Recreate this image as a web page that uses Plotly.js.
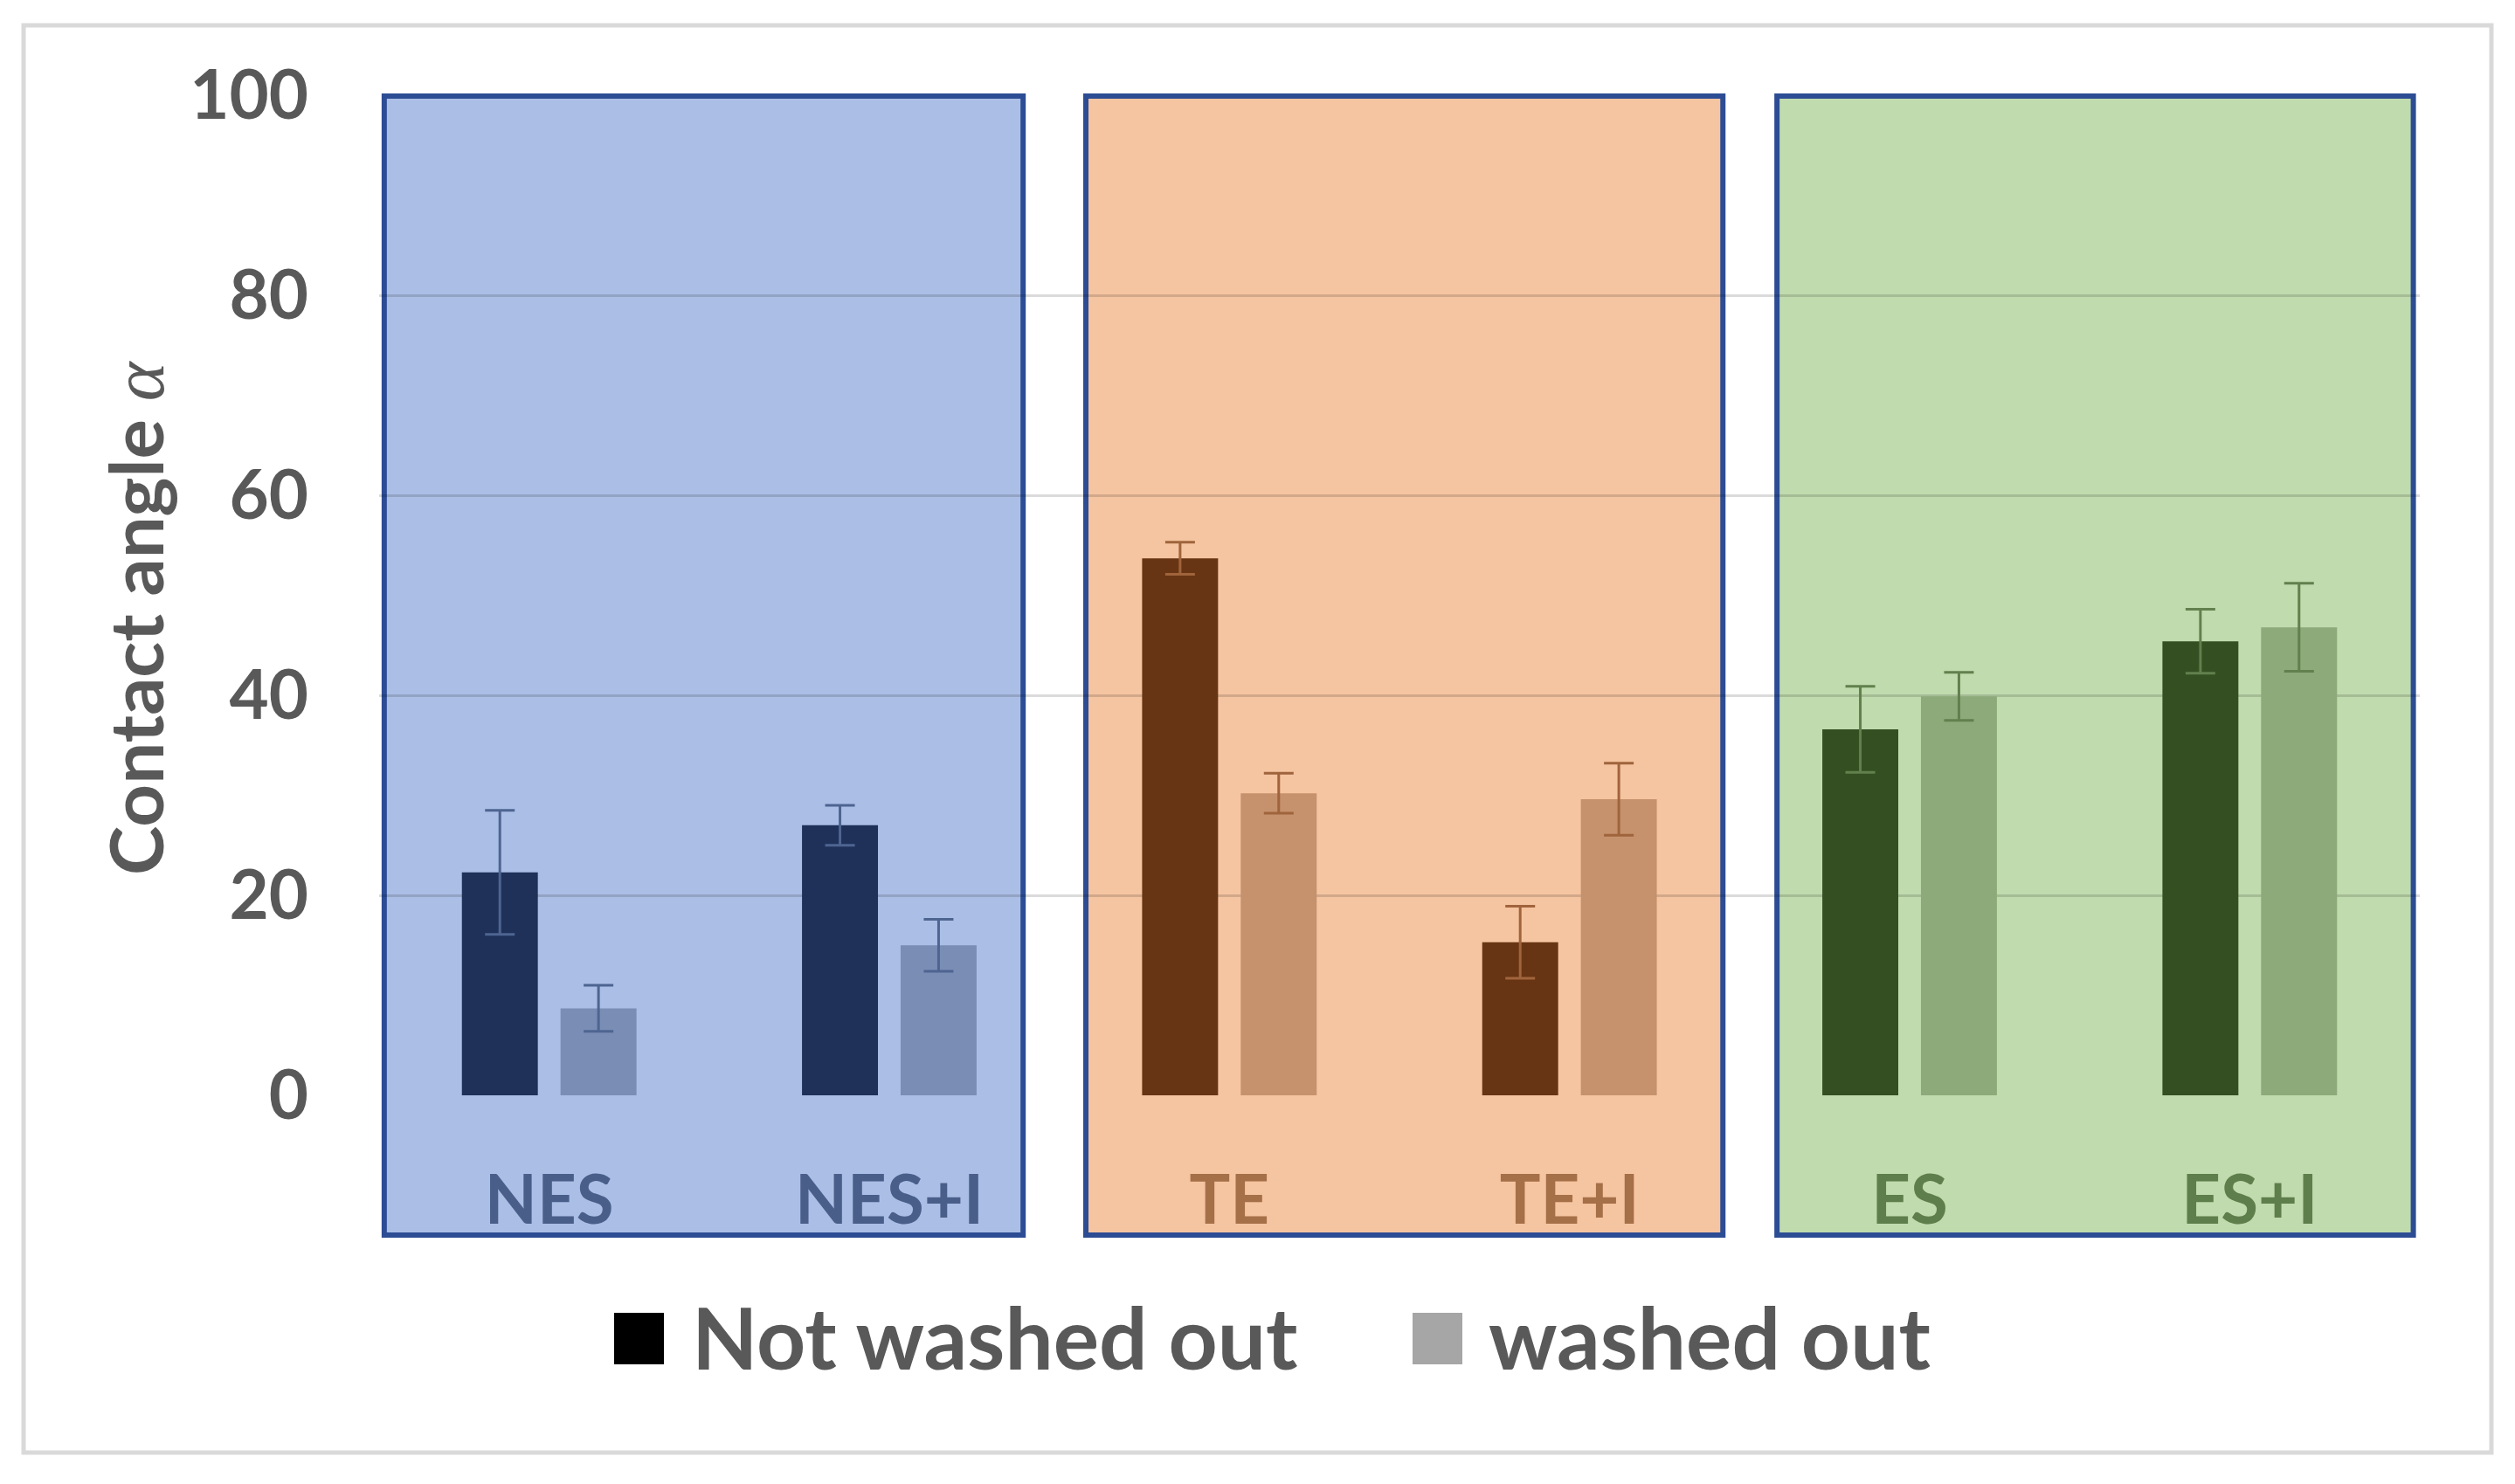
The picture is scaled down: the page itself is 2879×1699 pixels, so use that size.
<!DOCTYPE html>
<html>
<head>
<meta charset="utf-8">
<script src="https://cdn.plot.ly/plotly-3.0.1.min.js"></script>
<style>
  html, body { margin: 0; padding: 0; background: #ffffff; }
  #chart { width: 2879px; height: 1699px; }
</style>
</head>
<body>
<div id="chart"></div>
<script>
// ---------------- data ----------------
const categories = ['NES', 'NES+I', 'TE', 'TE+I', 'ES', 'ES+I'];
const notWashed = [22.3, 27.0, 53.7, 15.3, 36.6, 45.4];
const notWashedErr = [6.2, 2.0, 1.6, 3.6, 4.3, 3.2];
const washed = [8.7, 15.0, 30.2, 29.6, 39.9, 46.8];
const washedErr = [2.3, 2.6, 2.0, 3.6, 2.4, 4.4];
const groupMembers = [[0, 1], [2, 3], [4, 5]];
const seriesNames = ['Not washed out', 'washed out'];
const yTicks = [0, 20, 40, 60, 80, 100];
const yTitle = 'Contact angle';

// ---------------- styles ----------------
const W = 2879, H = 1699;
const M = { l: 434, r: 109, t: 109, b: 445 };
const PW = W - M.l - M.r, PH = H - M.t - M.b;
const px2x = p => (p - M.l) / PW;
const px2y = p => (H - M.b - p) / PH;

const groupStyle = [
  { fill: '#ABBEE5', dark: '#1F3158', light: '#7A8DB5', err: '#4E6491', label: '#4A5E8A', box: [-0.485, 1.3935] },
  { fill: '#F5C4A1', dark: '#673513', light: '#C5926D', err: '#A0643C', label: '#A56F48', box: [1.578, 3.451] },
  { fill: '#C0DBAE', dark: '#344F21', light: '#8DAA7A', err: '#61804D', label: '#5E7E4B', box: [3.610, 5.481] }
];
const textGray = '#595959';
const FONT = 'Lato, "Open Sans", sans-serif';

// ---------------- traces ----------------
const traces = [];
groupMembers.forEach((members, g) => {
  const st = groupStyle[g];
  [[notWashed, notWashedErr, st.dark, 'a', 0], [washed, washedErr, st.light, 'b', 1]].forEach(([vals, errs, col, og, s]) => {
    traces.push({
      type: 'bar',
      name: seriesNames[s],
      x: members.map(i => categories[i]),
      y: members.map(i => vals[i]),
      offsetgroup: og,
      legendgroup: seriesNames[s],
      showlegend: false,
      marker: { color: col, line: { width: 0 } },
      error_y: { type: 'data', array: members.map(i => errs[i]), visible: true, color: st.err, thickness: 3, width: 17 },
      hoverinfo: 'x+y'
    });
  });
});

// ---------------- shapes ----------------
const shapes = [];
// outer frame
shapes.push({ type: 'rect', xref: 'paper', yref: 'paper', layer: 'below',
  x0: px2x(27), x1: px2x(2852), y0: px2y(1663), y1: px2y(29),
  line: { color: '#D9D9D9', width: 5 }, fillcolor: 'rgba(0,0,0,0)' });
// group boxes
groupStyle.forEach(st => {
  shapes.push({ type: 'rect', xref: 'x', yref: 'paper', layer: 'below',
    x0: st.box[0], x1: st.box[1], y0: px2y(1414), y1: px2y(110),
    fillcolor: st.fill, line: { color: '#2C4C94', width: 6 } });
});
// legend swatches
const legendColors = ['#000000', '#A6A6A6'];
const legendSq = [[703, 760], [1617, 1674]];
legendSq.forEach((sq, i) => {
  shapes.push({ type: 'rect', xref: 'paper', yref: 'paper',
    x0: px2x(sq[0]), x1: px2x(sq[1]), y0: px2y(1562), y1: px2y(1503),
    fillcolor: legendColors[i], line: { width: 0 } });
});

// ---------------- annotations ----------------
const annotations = [];
annotations.push({
  xref: 'paper', yref: 'paper', x: px2x(154), y: px2y(707),
  xanchor: 'center', yanchor: 'middle', textangle: -90, showarrow: false,
  text: yTitle + ' <span style="font-family:\'Liberation Serif\', serif; font-weight:normal"><i>α</i></span>',
  font: { family: FONT, size: 85, color: textGray, weight: 'bold' }
});
const legendTextX = [790, 1702];
seriesNames.forEach((n, i) => {
  annotations.push({
    xref: 'paper', yref: 'paper', x: px2x(legendTextX[i]), y: px2y(1530),
    xanchor: 'left', yanchor: 'middle', showarrow: false, text: n,
    font: { family: FONT, size: 98, color: textGray, weight: 'bold' }
  });
});

// tick text coloured per group
const tickText = categories.map((c, i) => {
  const g = groupMembers.findIndex(m => m.includes(i));
  return '<span style="color:' + groupStyle[g].label + '">' + c + '</span>';
});

const layout = {
  width: W, height: H,
  margin: M,
  paper_bgcolor: '#ffffff',
  plot_bgcolor: 'rgba(0,0,0,0)',
  barmode: 'group',
  bargap: 0.42,
  bargroupgap: 0.23,
  showlegend: false,
  font: { family: FONT, color: textGray },
  xaxis: {
    type: 'category',
    categoryorder: 'array', categoryarray: categories,
    range: [-0.5, 5.5],
    tickmode: 'array', tickvals: categories, ticktext: tickText,
    showgrid: false, zeroline: false, showline: false, ticks: '',
    ticklabelstandoff: 68,
    tickfont: { family: FONT, size: 78, color: '#4A5E8A', weight: 'bold' }
  },
  yaxis: {
    range: [0, 100],
    tickmode: 'array', tickvals: yTicks,
    showgrid: true, gridcolor: 'rgba(0,0,0,0.14)', gridwidth: 3,
    zeroline: false, showline: false, ticks: '',
    ticklabelstandoff: 80,
    tickfont: { family: FONT, size: 78, color: textGray, weight: 'bold' }
  },
  shapes: shapes,
  annotations: annotations
};

Plotly.newPlot('chart', traces, layout, { displayModeBar: false, staticPlot: true });
</script>
</body>
</html>
